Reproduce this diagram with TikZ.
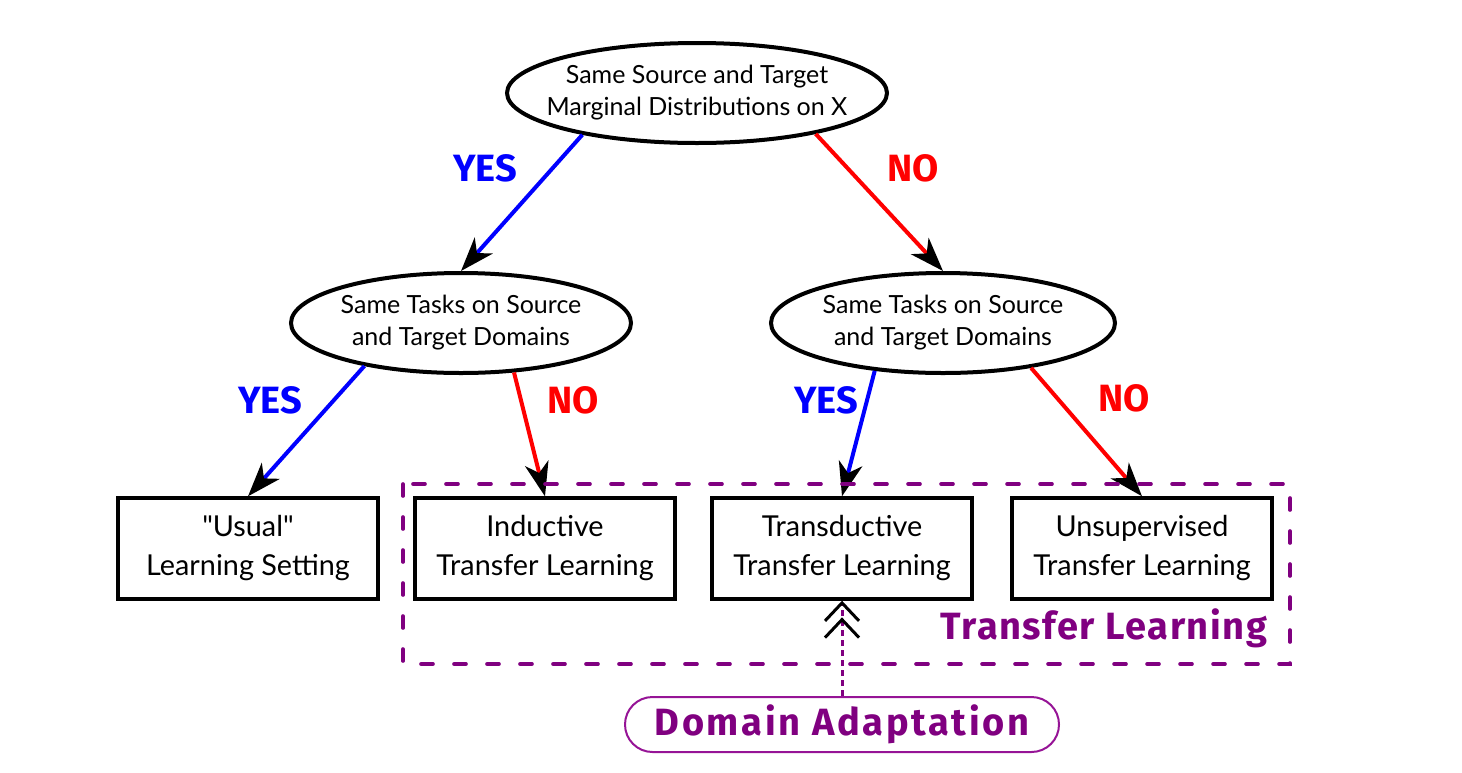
\documentclass[tikz,border=0pt]{standalone}
\usepackage{fontspec}
\setmainfont{Lato}
\newfontfamily\quotefont{Lato}[Ligatures=ResetAll]
\newfontfamily\tagfont{Fira Sans}
\newfontfamily\tagfontA{Fira Sans}[LetterSpace=4]
\newfontfamily\tagfontB{Fira Sans}[LetterSpace=7]
\usetikzlibrary{arrows.meta,shapes.geometric,shapes.misc}
\definecolor{tlpurple}{RGB}{128,0,128}
\definecolor{dapurple}{RGB}{150,20,150}
\newcommand{\sq}{{\quotefont\symbol{34}}}
\begin{document}
\begin{tikzpicture}[x=0.5pt,y=-0.5pt,
  question/.style={ellipse,draw,line width=2pt,inner sep=0pt,minimum height=50pt},
  qtext/.style={align=center,inner sep=0pt,font=\fontsize{12.5}{16}\selectfont},
  leaf/.style={rectangle,draw,line width=1.7pt,minimum width=130pt,minimum height=50.5pt,inner sep=0pt,align=center,font=\fontsize{14.4}{19.5}\selectfont},
  yesarrow/.style={draw=blue,line width=2pt,-{Stealth[black,length=17pt,width=12pt,inset=5pt]}},
  noarrow/.style={draw=red,line width=2pt,-{Stealth[black,length=17pt,width=12pt,inset=5pt]}},
  yestag/.style={text=blue,font=\tagfont\bfseries\fontsize{19}{22}\selectfont},
  notag/.style={text=red,font=\tagfont\bfseries\fontsize{19}{22}\selectfont}
]
\useasboundingbox (0,0) rectangle (1462,772);
\node[question,minimum width=190pt] (top) at (697,93) {};
\node[qtext] (toptext) at (top.center) {Same Source and Target\\Marginal Distributions on X};
\node[question,minimum width=170pt] (ml) at (461,323) {};
\node[qtext] (mltext) at (ml.center) {Same Tasks on Source\\and Target Domains};
\node[question,minimum width=172pt] (mr) at (943,323) {};
\node[qtext] (mrtext) at (mr.center) {Same Tasks on Source\\and Target Domains};
\node[leaf] (usual) at (248,548.5) {\sq Usual\sq\\Learning Setting};
\node[leaf] (ind) at (545,548.5) {Inductive\\Transfer Learning};
\node[leaf] (trans) at (842,548.5) {Transductive\\Transfer Learning};
\node[leaf] (unsup) at (1142,548.5) {Unsupervised\\Transfer Learning};

\draw[yesarrow] (top.200) -- (ml.north);
\draw[noarrow] (top.341.7) -- (mr.north);
\draw[yesarrow] (ml.204) -- (usual.north);
\draw[noarrow] (ml.317.5) -- (ind.north);
\draw[yesarrow] (mr.215) -- (trans.north);
\draw[noarrow] (mr.333.7) -- (unsup.north);

\node[yestag] (y1) at (485,168) {YES};
\node[notag] (n1) at (913,168) {NO};
\node[yestag] (y2) at (270,400) {YES};
\node[notag] (n2) at (573,400) {NO};
\node[yestag] (y3) at (826,400) {YES};
\node[notag] (n3) at (1124,398) {NO};

\draw[tlpurple,line width=1.8pt,dash pattern=on 6pt off 10.5pt,line cap=round] (403,484) rectangle (1290,664);
\node[text=tlpurple,font=\tagfontA\bfseries\fontsize{19}{22}\selectfont,anchor=east] (tl) at (1274,628) {Transfer Learning};

\node[rounded rectangle,draw=dapurple,line width=1pt,minimum width=217pt,minimum height=27.5pt,inner sep=0pt,text=tlpurple,font=\tagfontB\bfseries\fontsize{19}{22}\selectfont] (da) at (842,724.5) {Domain Adaptation};
\draw[tlpurple,line width=1.5pt,dash pattern=on 3pt off 2pt,
  -{Straight Barb[black,length=9pt,width=17pt,line width=1.5pt,sep=-2.5pt] Straight Barb[black,length=9pt,width=17pt,line width=1.5pt]}] (da.north) -- (trans.south);
\end{tikzpicture}
\end{document}
